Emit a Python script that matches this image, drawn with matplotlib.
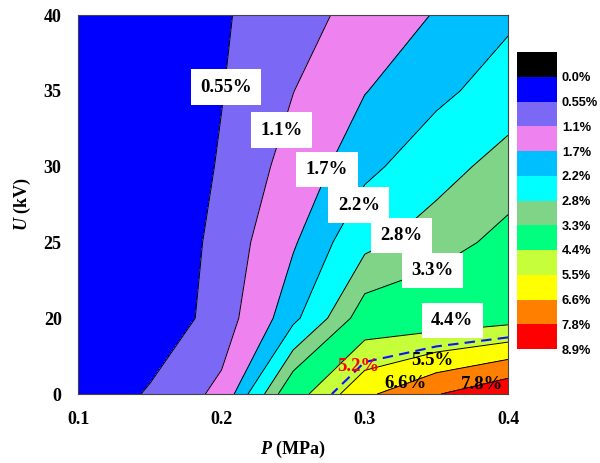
import numpy as np
import matplotlib
matplotlib.use("Agg")
import matplotlib.pyplot as plt
from matplotlib.colors import ListedColormap, BoundaryNorm
from matplotlib.cm import ScalarMappable

plt.rcParams['mathtext.fontset'] = 'custom'
plt.rcParams['mathtext.it'] = 'Liberation Serif:italic:bold'
plt.rcParams['mathtext.rm'] = 'Liberation Serif:bold'

# grid of measurements: pressure (MPa) x voltage (kV)
pressure = [0.10, 0.15, 0.20, 0.25, 0.30, 0.35, 0.40]
voltage = [15, 20, 25, 30, 35, 40]

# value (%) at each grid node, one list per voltage row
z_15 = [0.05, 0.62, 1.24, 3.84, 6.36, 7.73, 8.80]
z_20 = [0.05, 0.12, 0.80, 2.05, 3.61, 3.70, 3.98]
z_25 = [0.05, 0.05, 0.73, 1.64, 2.65, 3.10, 3.45]
z_30 = [0.05, 0.10, 0.60, 1.33, 2.06, 2.56, 3.04]
z_35 = [0.10, 0.30, 0.53, 1.09, 1.68, 2.07, 2.46]
z_40 = [0.10, 0.30, 0.49, 0.88, 1.30, 1.74, 2.10]

levels = [0.0, 0.55, 1.1, 1.7, 2.2, 2.8, 3.3, 4.4, 5.5, 6.6, 7.8, 8.9]
level_labels = ['0.0%', '0.55%', '1.1%', '1.7%', '2.2%', '2.8%', '3.3%',
                '4.4%', '5.5%', '6.6%', '7.8%', '8.9%']
fill_colors = ['#0000FF', '#7B68F5', '#EE82EE', '#00BFFF', '#00FFFF',
               '#80D487', '#00FF7F', '#C6FF3A', '#FFFF00', '#FF8000', '#FF0000']

y_ticks = [15, 20, 25, 30, 35, 40]
y_ticklabels = ['0', '20', '25', '30', '35', '40']
x_ticks = [0.1, 0.2, 0.3, 0.4]

# contour labels and where they sit
boxed_labels = ['0.55%', '1.1%', '1.7%', '2.2%', '2.8%', '3.3%', '4.4%']
boxed_pos = [(0.2031, 35.24), (0.2421, 32.39), (0.2736, 29.81), (0.2958, 27.45),
             (0.3256, 25.45), (0.3471, 23.15), (0.3609, 19.85)]
plain_labels = ['5.5%', '6.6%', '7.8%']
plain_pos = [(0.3469, 17.24), (0.3283, 15.7), (0.3818, 15.6)]
mark_level = 5.2
mark_pos = (0.2956, 16.8)

Z = np.array([z_15, z_20, z_25, z_30, z_35, z_40])
P, U = np.meshgrid(pressure, voltage)

serif = 'Liberation Serif'
fig = plt.figure(figsize=(6.0, 4.63), dpi=100)
ax = fig.add_axes([0.1305, 0.149, 0.7162, 0.8186])

ax.contourf(P, U, Z, levels=levels, colors=fill_colors)
ax.contour(P, U, Z, levels=levels[1:-1], colors='black', linewidths=0.7)
ax.contour(P, U, Z, levels=[mark_level], colors='#1010FF', linewidths=1.5,
           linestyles=[(0, (5, 3))])

for txt, (px, uy) in zip(boxed_labels, boxed_pos):
    ax.text(px, uy, txt, ha='center', va='center', fontsize=13.5,
            fontweight='bold', family=serif,
            bbox=dict(boxstyle='square,pad=0.5', fc='white', ec='none'))
for txt, (px, uy) in zip(plain_labels, plain_pos):
    ax.text(px, uy, txt, ha='center', va='center', fontsize=13.5,
            fontweight='bold', family=serif)
ax.text(mark_pos[0], mark_pos[1], f'{mark_level}%', ha='center', va='center',
        fontsize=13.5, fontweight='bold', family=serif, color='red')

ax.set_xlim(0.1, 0.4)
ax.set_ylim(15, 40)
ax.set_xticks(x_ticks)
ax.set_xticklabels([f'{x:.1f}' for x in x_ticks])
ax.set_yticks(y_ticks)
ax.set_yticklabels(y_ticklabels)
ax.tick_params(length=0, labelsize=13)
ax.tick_params(axis='x', pad=12)
ax.tick_params(axis='y', pad=12)
for lab in ax.get_xticklabels() + ax.get_yticklabels():
    lab.set_family(serif)
    lab.set_fontweight('bold')
for s in ax.spines.values():
    s.set_linewidth(0.8)
    s.set_color('#444444')

ax.set_xlabel(r'$P$ (MPa)', fontsize=13, fontweight='bold', family=serif, labelpad=8)
ax.set_ylabel(r'$U$ (kV)', fontsize=13, fontweight='bold', family=serif, labelpad=8)

# colour key, values increasing downwards
cax = fig.add_axes([517 / 600, 1 - 349 / 463, 40 / 600, 297 / 463])
cmap = ListedColormap(['#000000'] + fill_colors)
norm = BoundaryNorm([-0.55] + levels, cmap.N)
cb = fig.colorbar(ScalarMappable(norm=norm, cmap=cmap), cax=cax,
                  spacing='uniform', ticks=levels)
cb.set_ticklabels(level_labels)
cax.invert_yaxis()
cb.outline.set_visible(False)
cax.minorticks_off()
cax.tick_params(length=0, pad=3.5, labelsize=9.2)
for lab in cax.get_yticklabels():
    lab.set_family('Liberation Sans')
    lab.set_fontweight('bold')

fig.savefig('out.png', dpi=100)
